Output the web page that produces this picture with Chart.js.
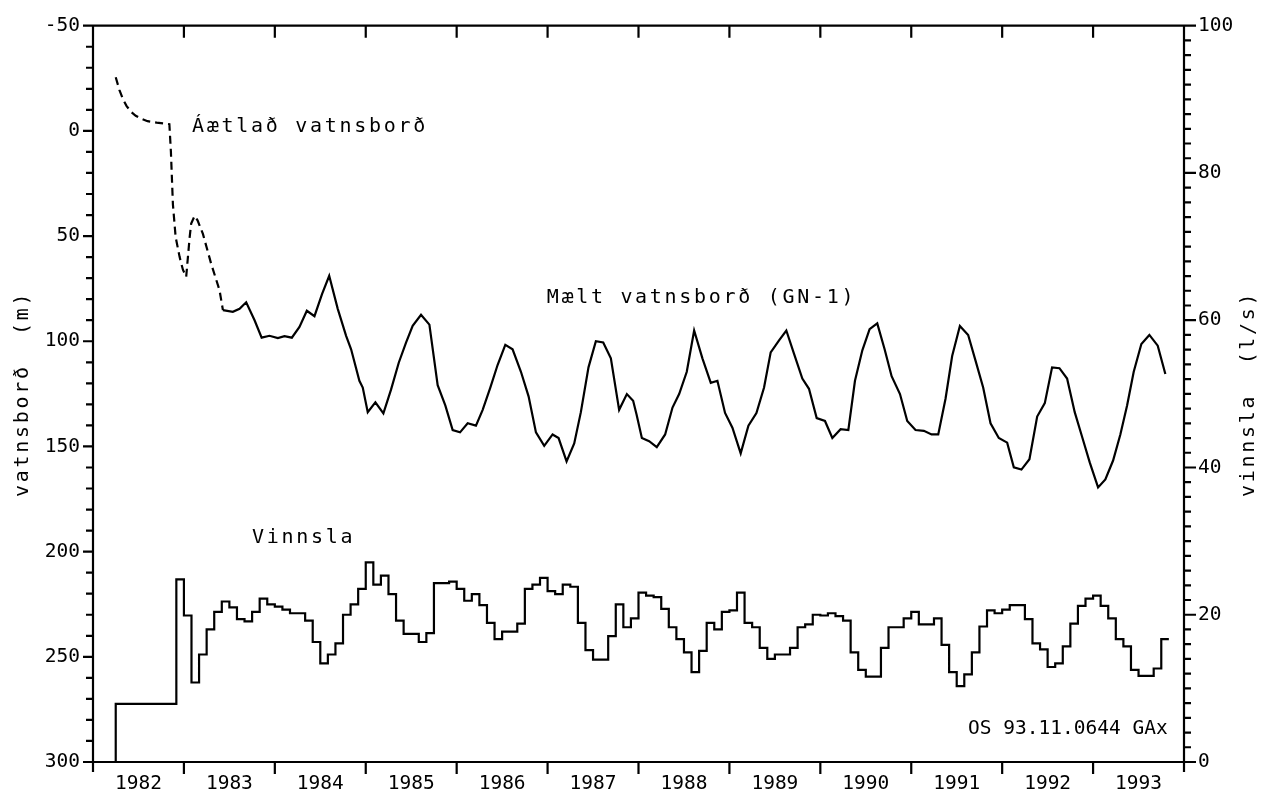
<!DOCTYPE html>
<html lang="is">
<head>
<meta charset="utf-8">
<title>Vatnsborð og vinnsla GN-1</title>
<script src="https://cdn.jsdelivr.net/npm/chart.js@4.4.1/dist/chart.umd.min.js"></script>
<style>
  html, body { margin: 0; padding: 0; background: #fff; }
  #wrap { width: 1263px; height: 796px; }
</style>
</head>
<body>
<div id="wrap"><canvas id="graf" width="1263" height="796"></canvas></div>
<script>
const FONT = "'DejaVu Sans Mono', 'Liberation Mono', monospace";

const yearLabels = ['1982', '1983', '1984', '1985', '1986', '1987', '1988', '1989', '1990', '1991', '1992', '1993'];
const yearStart = 1982;
const yearEnd = 1994;

// áætlað vatnsborð (m) áður en mælingar hófust
const estYear = [1982.25, 1982.29, 1982.33, 1982.37, 1982.42, 1982.47, 1982.53, 1982.60, 1982.70, 1982.84,
  1982.857, 1982.879, 1982.909, 1982.953, 1982.989, 1983.025, 1983.044, 1983.063, 1983.08, 1983.118,
  1983.15, 1983.209, 1983.30, 1983.392, 1983.429];
const estLevel = [-25.5, -19.5, -15, -11.8, -9, -7.2, -5.8, -4.6, -3.9, -3.2,
  10, 35, 50.5, 60, 66, 69.4, 60, 50.6, 44, 40.4,
  42.5, 49, 63.2, 75.8, 85.2];

// mælt vatnsborð í GN-1 (m)
const measYear = [1983.429, 1983.538, 1983.612, 1983.685, 1983.777, 1983.855, 1983.941, 1984.033, 1984.106, 1984.187,
  1984.271, 1984.352, 1984.436, 1984.520, 1984.598, 1984.692, 1984.784, 1984.839, 1984.930, 1984.967,
  1985.022, 1985.106, 1985.194, 1985.278, 1985.363, 1985.443, 1985.516, 1985.608, 1985.700, 1985.791,
  1985.875, 1985.956, 1986.037, 1986.121, 1986.212, 1986.286, 1986.370, 1986.450, 1986.535, 1986.615,
  1986.707, 1986.791, 1986.872, 1986.963, 1987.055, 1987.121, 1987.209, 1987.293, 1987.366, 1987.450,
  1987.531, 1987.612, 1987.696, 1987.787, 1987.872, 1987.941, 1987.978, 1988.037, 1988.117, 1988.201,
  1988.293, 1988.374, 1988.447, 1988.531, 1988.612, 1988.703, 1988.795, 1988.868, 1988.952, 1989.033,
  1989.124, 1989.209, 1989.297, 1989.381, 1989.454, 1989.546, 1989.626, 1989.711, 1989.802, 1989.875,
  1989.960, 1990.051, 1990.132, 1990.223, 1990.308, 1990.381, 1990.462, 1990.542, 1990.626, 1990.707,
  1990.784, 1990.876, 1990.956, 1991.047, 1991.139, 1991.223, 1991.297, 1991.377, 1991.450, 1991.535,
  1991.626, 1991.707, 1991.791, 1991.872, 1991.963, 1992.055, 1992.128, 1992.212, 1992.300, 1992.385,
  1992.469, 1992.549, 1992.630, 1992.714, 1992.798, 1992.879, 1992.963, 1993.055, 1993.135, 1993.220,
  1993.300, 1993.374, 1993.447, 1993.531, 1993.619, 1993.711, 1993.795];
const measLevel = [85.2, 86.0, 84.6, 81.5, 90.0, 98.3, 97.4, 98.5, 97.6, 98.3,
  93.2, 85.5, 88.1, 77.5, 68.9, 84.6, 97.4, 103.8, 118.8, 122.0,
  133.7, 129.0, 134.3, 123.0, 110.2, 100.6, 92.7, 87.4, 92.1, 120.9,
  130.5, 142.2, 143.3, 139.0, 140.1, 132.6, 122.0, 111.3, 101.7, 103.8,
  114.5, 126.2, 143.3, 149.7, 144.3, 146.0, 157.1, 148.6, 133.7, 112.4,
  100.0, 100.6, 108.1, 132.6, 125.1, 128.3, 134.7, 146.0, 147.5, 150.3,
  144.3, 131.5, 125.1, 114.5, 94.9, 108.1, 119.8, 118.8, 134.1, 141.1,
  153.3, 140.1, 134.1, 122.0, 105.3, 99.6, 94.9, 106.0, 117.7, 122.6,
  136.5, 137.9, 146.0, 141.8, 142.2, 118.8, 104.3, 94.2, 91.5, 103.8,
  116.6, 125.1, 137.9, 142.2, 142.6, 144.3, 144.3, 127.3, 107.0, 92.7,
  97.0, 109.2, 122.0, 139.0, 146.0, 148.2, 159.9, 161.0, 156.1, 135.8,
  129.4, 112.4, 112.8, 117.7, 133.7, 145.4, 157.6, 169.5, 165.7, 156.7,
  144.3, 130.5, 114.5, 101.3, 97.0, 102.1, 115.6];

// mánaðarleg vinnsla (l/s), frá apríl 1982 til október 1993
const prodStart = 1982.25;
const prodValues = [
  7.9, 7.9, 7.9, 7.9, 7.9, 7.9, 7.9, 7.9, 24.8,
  19.9, 10.8, 14.6, 18.0, 20.4, 21.8, 21.0, 19.4, 19.1, 20.4, 22.2, 21.4,
  21.1, 20.7, 20.2, 20.2, 19.2, 16.3, 13.4, 14.6, 16.1, 20.0, 21.4, 23.5,
  27.1, 24.1, 25.3, 22.8, 19.2, 17.4, 17.4, 16.3, 17.5, 24.3, 24.3, 24.5,
  23.5, 21.9, 22.8, 21.3, 18.9, 16.7, 17.7, 17.7, 18.8, 23.5, 24.1, 25.0,
  23.2, 22.8, 24.1, 23.8, 18.9, 15.2, 13.9, 13.9, 17.1, 21.4, 18.3, 19.5,
  23.0, 22.6, 22.4, 20.8, 18.3, 16.7, 14.9, 12.2, 15.1, 18.9, 18.0, 20.4,
  20.6, 23.0, 18.9, 18.3, 15.5, 14.0, 14.6, 14.6, 15.5, 18.3, 18.7, 20.0,
  19.9, 20.2, 19.8, 19.2, 14.9, 12.5, 11.6, 11.6, 15.5, 18.3, 18.3, 19.5,
  20.4, 18.7, 18.7, 19.5, 15.9, 12.2, 10.3, 11.9, 14.9, 18.4, 20.6, 20.2,
  20.7, 21.3, 21.3, 19.4, 16.1, 15.3, 12.9, 13.4, 15.7, 18.8, 21.2, 22.2,
  22.6, 21.2, 19.5, 16.7, 15.7, 12.5, 11.7, 11.7, 12.7, 16.7
];

function pairs(xs, ys) {
  return xs.map((x, i) => ({ x: x, y: ys[i] }));
}

// tröppulína: byrjar frá núlli og hver mánuður heldur gildi sínu út mánuðinn
function prodPoints() {
  const pts = [{ x: prodStart, y: 0 }];
  prodValues.forEach((v, i) => pts.push({ x: prodStart + i / 12, y: v }));
  pts.push({ x: prodStart + prodValues.length / 12, y: prodValues[prodValues.length - 1] });
  return pts;
}

function drawText(ctx, text, x, y, size, spacing, align) {
  ctx.font = size + 'px ' + FONT;
  ctx.letterSpacing = spacing + 'px';
  ctx.textAlign = align || 'left';
  ctx.textBaseline = 'alphabetic';
  ctx.fillStyle = '#000';
  ctx.fillText(text, x, y);
  ctx.letterSpacing = '0px';
}

// rammi, ásamerki, ásaheiti og textar inni á myndinni
const plotFrame = {
  id: 'plotFrame',
  afterDatasetsDraw(chart) {
    const { ctx, chartArea: a, scales } = chart;
    const xs = scales.x, yl = scales.y, yr = scales.y1;
    ctx.save();
    ctx.strokeStyle = '#000';
    ctx.lineWidth = 2.2;
    ctx.lineCap = 'butt';
    ctx.beginPath();
    ctx.moveTo(a.left, a.top); ctx.lineTo(a.right, a.top);
    ctx.moveTo(a.left, a.bottom); ctx.lineTo(a.right, a.bottom);
    ctx.moveTo(a.left, a.top); ctx.lineTo(a.left, a.bottom + 10);
    ctx.moveTo(a.right, a.top); ctx.lineTo(a.right, a.bottom + 10);

    for (let v = yl.min; v <= yl.max; v += 10) {
      const p = yl.getPixelForValue(v);
      const len = v % 50 === 0 ? 10 : 7;
      ctx.moveTo(a.left - len, p); ctx.lineTo(a.left, p);
    }
    for (let v = yr.min; v <= yr.max; v += 2) {
      const p = yr.getPixelForValue(v);
      const len = v % 20 === 0 ? 12 : 7;
      ctx.moveTo(a.right, p); ctx.lineTo(a.right + len, p);
    }
    for (let y = yearStart + 1; y < yearEnd; y++) {
      const p = xs.getPixelForValue(y);
      ctx.moveTo(p, a.bottom); ctx.lineTo(p, a.bottom + 12);
      ctx.moveTo(p, a.top); ctx.lineTo(p, a.top + 12);
    }
    ctx.stroke();

    const mid = (a.top + a.bottom) / 2;
    ctx.save();
    ctx.translate(28, mid);
    ctx.rotate(-Math.PI / 2);
    drawText(ctx, 'vatnsborð  (m)', 0, 0, 20, 2.7, 'center');
    ctx.restore();
    ctx.save();
    ctx.translate(1254, mid);
    ctx.rotate(-Math.PI / 2);
    drawText(ctx, 'vinnsla  (l/s)', 0, 0, 20, 2.7, 'center');
    ctx.restore();

    drawText(ctx, 'Áætlað vatnsborð', xs.getPixelForValue(1983.09), yl.getPixelForValue(0.3), 20, 2.7);
    drawText(ctx, 'Mælt vatnsborð (GN-1)', xs.getPixelForValue(1986.99), yl.getPixelForValue(81.7), 20, 2.7);
    drawText(ctx, 'Vinnsla', xs.getPixelForValue(1983.75), yr.getPixelForValue(29.8), 20, 2.7);
    drawText(ctx, 'OS 93.11.0644 GAx', xs.getPixelForValue(1993.82), yr.getPixelForValue(3.8), 19.5, 0, 'right');
    ctx.restore();
  }
};

const tickFont = { family: FONT, size: 19.5 };

new Chart(document.getElementById('graf'), {
  type: 'line',
  data: {
    datasets: [
      {
        label: 'Áætlað vatnsborð',
        data: pairs(estYear, estLevel),
        yAxisID: 'y',
        borderColor: '#000',
        borderWidth: 2.2,
        borderDash: [8, 5],
        pointRadius: 0,
        tension: 0
      },
      {
        label: 'Mælt vatnsborð (GN-1)',
        data: pairs(measYear, measLevel),
        yAxisID: 'y',
        borderColor: '#000',
        borderWidth: 2.2,
        pointRadius: 0,
        tension: 0
      },
      {
        label: 'Vinnsla',
        data: prodPoints(),
        yAxisID: 'y1',
        borderColor: '#000',
        borderWidth: 2.2,
        pointRadius: 0,
        stepped: true
      }
    ]
  },
  options: {
    responsive: false,
    animation: false,
    devicePixelRatio: 1,
    layout: { padding: { top: 18, left: 0, right: 0, bottom: 0 } },
    plugins: {
      legend: { display: false },
      tooltip: { enabled: false }
    },
    scales: {
      x: {
        type: 'linear',
        position: 'bottom',
        min: yearStart,
        max: yearEnd,
        grid: { display: false, drawTicks: false },
        border: { display: false },
        afterBuildTicks: (scale) => {
          // ártölin sitja mitt á milli ásamerkja
          scale.ticks = yearLabels.map((l, i) => ({ value: yearStart + i + 0.5 }));
        },
        afterFit: (scale) => { scale.height = 34; },
        ticks: {
          autoSkip: false,
          maxRotation: 0,
          padding: 10,
          color: '#000',
          font: tickFont,
          callback: (v, i) => yearLabels[i]
        }
      },
      y: {
        position: 'left',
        reverse: true,
        min: -50,
        max: 300,
        grid: { display: false, drawTicks: false },
        border: { display: false },
        afterFit: (scale) => { scale.width = 93; },
        ticks: {
          stepSize: 50,
          padding: 13,
          color: '#000',
          font: tickFont,
          callback: (v) => String(v)
        }
      },
      y1: {
        position: 'right',
        min: 0,
        max: 100,
        grid: { display: false, drawTicks: false },
        border: { display: false },
        afterFit: (scale) => { scale.width = 79; },
        ticks: {
          stepSize: 20,
          padding: 14,
          color: '#000',
          font: tickFont,
          callback: (v) => String(v)
        }
      }
    }
  },
  plugins: [plotFrame]
});
</script>
</body>
</html>
